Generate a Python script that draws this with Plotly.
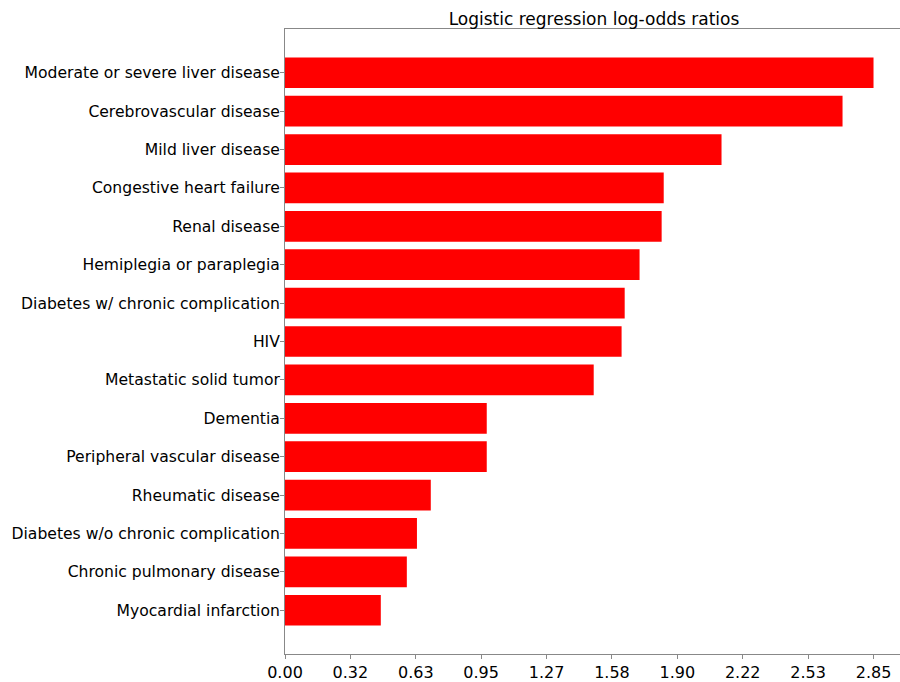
import plotly.graph_objects as go

categories = [
    "Myocardial infarction",
    "Chronic pulmonary disease",
    "Diabetes w/o chronic complication",
    "Rheumatic disease",
    "Peripheral vascular disease",
    "Dementia",
    "Metastatic solid tumor",
    "HIV",
    "Diabetes w/ chronic complication",
    "Hemiplegia or paraplegia",
    "Renal disease",
    "Congestive heart failure",
    "Mild liver disease",
    "Cerebrovascular disease",
    "Moderate or severe liver disease",
]
values = [0.464, 0.590, 0.639, 0.706, 0.977, 0.977, 1.495, 1.630, 1.645,
          1.717, 1.824, 1.834, 2.114, 2.700, 2.850]

vmax = max(values)
tick_vals = [vmax * i / 9 for i in range(10)]
tick_text = ["%.2f" % v for v in tick_vals]

font = "DejaVu Sans, sans-serif"

fig = go.Figure(
    go.Bar(
        x=values,
        y=categories,
        orientation="h",
        width=0.8,
        marker=dict(color="#ff0000", line=dict(width=0)),
        hoverinfo="x+y",
    )
)

fig.update_layout(
    width=900,
    height=682,
    margin=dict(l=285, r=0, t=29, b=23),
    plot_bgcolor="white",
    paper_bgcolor="white",
    showlegend=False,
    font=dict(family=font, size=16, color="black"),
    title=dict(
        text="Logistic regression log-odds ratios",
        x=594 / 900,
        xanchor="center",
        y=1 - 19 / 682,
        yanchor="middle",
        font=dict(family=font, size=17, color="black"),
    ),
)

fig.update_xaxes(
    range=[0, vmax * 1.045],
    tickmode="array",
    tickvals=tick_vals,
    ticktext=tick_text,
    ticks="outside",
    ticklen=4,
    tickcolor="#888888",
    showline=True,
    linecolor="#888888",
    linewidth=1,
    mirror=True,
    showgrid=False,
    zeroline=False,
    tickfont=dict(family=font, size=16, color="black"),
)

fig.update_yaxes(
    type="category",
    categoryorder="array",
    categoryarray=categories,
    range=[-1.14, len(categories) - 1 + 1.14],
    ticks="outside",
    ticklen=4,
    tickcolor="#888888",
    showline=True,
    linecolor="#888888",
    linewidth=1,
    showgrid=False,
    zeroline=False,
    ticklabelstandoff=-3,
    tickfont=dict(family=font, size=15.6, color="black"),
)

fig.write_html("out.html")
